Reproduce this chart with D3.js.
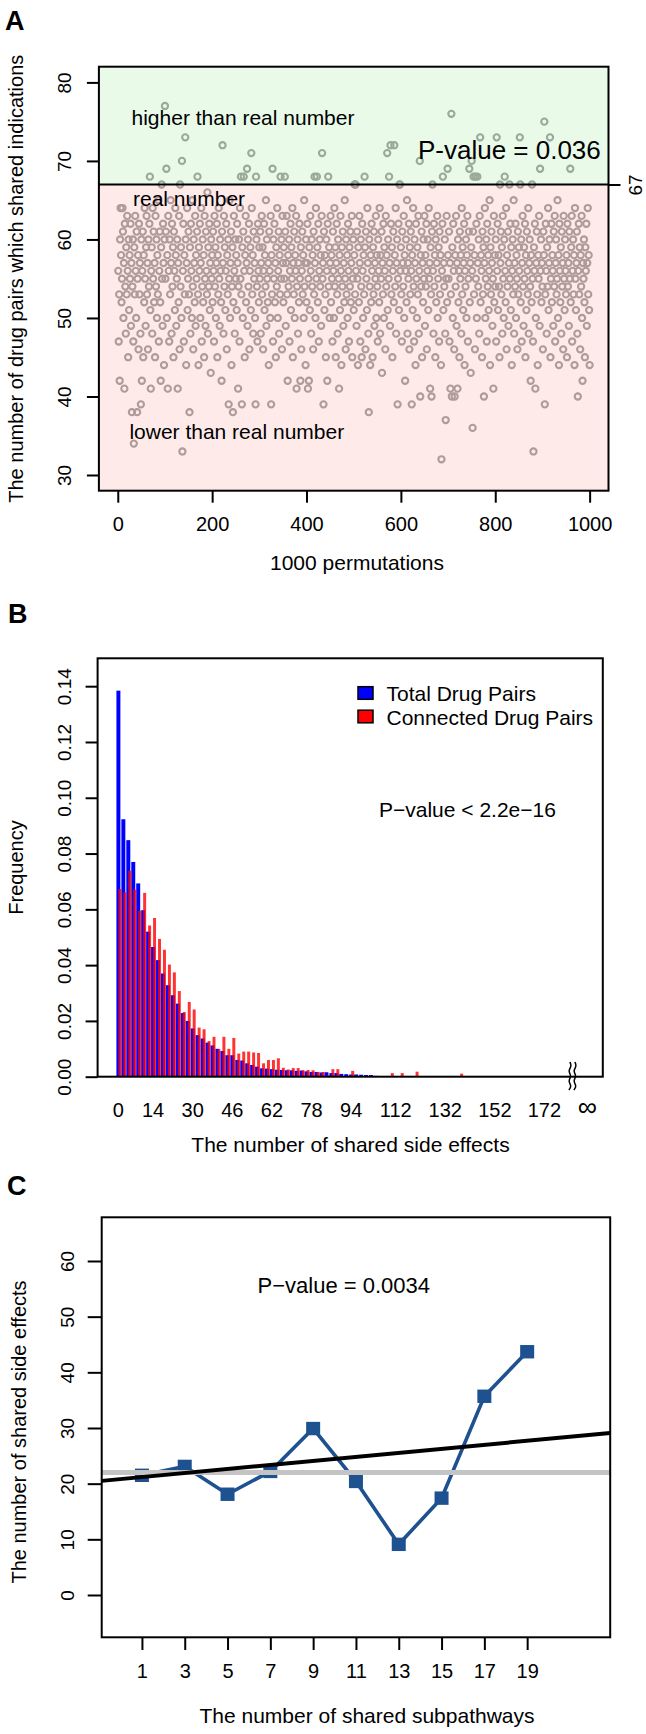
<!DOCTYPE html>
<html><head><meta charset="utf-8">
<script src="https://cdn.jsdelivr.net/npm/d3@7"></script>
<style>body{margin:0;background:#fff} svg{display:block}</style>
</head><body><script>
// ---------------- Panel A data ----------------
const permValues = [
56,47,53,42,60,64,58,52,55,64,61,50,57,41,62,54,48,59,53,63,56,45,60,51,58,55,62,49,57,38,54,60,47,34,59,53,63,56,50,61,38,55,58,46,62,53,57,48,39,60,
42,56,61,45,58,52,64,55,49,59,63,53,57,46,60,54,62,68,51,41,56,59,48,64,55,61,52,57,45,63,54,60,50,58,53,65,47,56,61,52,42,59,67,55,49,62,57,44,60,77,
55,61,69,50,58,41,63,56,47,60,53,65,57,48,62,54,59,45,61,56,51,64,58,49,55,60,41,57,52,63,46,67,54,59,50,70,33,56,62,47,58,53,73,60,44,57,64,51,55,61,
53,38,59,48,62,56,50,65,54,46,60,57,52,63,49,58,55,61,68,53,44,59,56,62,50,57,64,47,54,60,52,58,45,63,55,49,61,56,53,66,48,59,54,62,51,57,43,60,55,58,
52,61,56,47,63,54,59,50,57,62,45,58,53,64,55,49,60,56,52,42,61,72,57,48,63,54,59,51,56,62,46,58,53,60,39,55,65,50,57,61,44,54,59,38,52,63,56,48,60,55,
58,51,62,57,41,54,60,47,64,55,68,53,39,59,50,61,68,56,45,58,63,52,57,69,49,60,54,62,46,56,59,51,71,64,53,58,48,61,55,57,50,39,68,60,54,47,62,56,52,59,
55,61,48,57,63,53,59,46,56,62,51,58,54,65,49,60,55,52,57,44,61,56,50,63,39,58,53,69,47,60,55,62,52,57,45,59,54,64,50,56,61,48,58,53,68,55,60,46,63,57,
52,59,55,68,61,49,57,63,53,42,58,54,60,47,56,62,51,59,55,64,45,57,53,61,50,58,56,63,41,54,60,48,57,52,62,55,42,59,46,56,61,53,58,50,65,54,57,44,60,52,
57,62,41,55,42,59,51,63,56,48,60,54,58,46,61,53,68,57,50,64,55,68,59,52,62,47,56,60,54,58,49,63,71,55,57,39,61,51,58,53,45,60,56,42,62,68,54,59,50,57,
63,52,58,55,47,61,56,50,64,54,59,45,57,62,53,48,60,55,41,58,51,63,56,44,59,54,61,49,57,52,65,55,46,60,53,58,50,62,56,47,59,54,61,52,57,63,45,55,60,51,
58,67,53,67,56,49,61,55,44,59,52,63,57,47,60,54,45,62,56,50,58,53,68,59,46,61,55,51,64,57,48,38,60,54,44,58,52,62,56,45,59,53,61,49,57,55,63,50,58,54,
47,60,56,52,64,48,58,55,61,43,57,53,62,50,59,56,46,63,54,58,71,51,60,55,68,57,49,72,62,53,59,45,56,61,52,72,58,54,64,48,57,60,39,55,62,51,67,67,56,59,
53,47,61,57,54,63,50,58,42,56,60,52,65,48,57,55,62,46,59,53,61,56,39,58,51,64,54,47,60,57,44,62,55,50,59,53,63,48,56,70,40,58,54,61,45,57,52,60,55,63,
49,58,54,62,46,56,60,51,64,55,57,41,59,53,40,61,67,56,48,62,54,58,45,60,52,57,63,50,55,59,47,61,53,58,44,32,56,62,68,51,57,54,60,48,37,55,63,52,69,58,
55,61,47,57,41,53,76,40,59,50,62,56,46,40,58,54,63,49,57,41,60,52,56,45,61,55,58,48,64,53,59,51,57,62,44,56,54,60,50,58,63,47,55,61,69,52,57,43,59,70,
56,36,61,68,53,58,46,68,55,62,50,68,57,54,60,48,63,73,52,58,56,45,61,53,59,40,57,64,50,55,60,47,62,54,58,51,56,65,44,59,53,61,57,49,55,41,63,52,58,54,
60,47,73,56,62,51,58,54,45,67,57,61,53,59,48,63,55,50,60,68,56,52,64,46,58,54,61,49,57,67,55,62,51,59,44,56,60,53,65,48,57,54,62,50,58,55,46,61,53,59,
56,73,67,52,60,47,57,63,54,49,59,55,62,45,58,51,61,56,53,64,48,57,60,54,42,58,52,67,55,47,33,59,56,62,41,50,57,61,53,44,58,55,63,49,69,56,60,52,57,54,
46,61,58,75,39,53,62,56,48,59,54,64,51,57,60,73,45,55,62,52,58,56,49,61,54,63,47,57,60,53,55,65,50,58,44,62,56,52,59,48,61,54,57,46,63,55,51,60,56,53,
58,45,62,54,57,49,61,55,69,52,59,63,47,56,60,53,58,44,64,55,51,57,61,48,40,56,62,53,59,46,58,54,63,50,42,57,55,60,52,45,59,56,62,49,57,64,53,58,51,44
];
const permRealNumber = 67;
const permXTicks = [0, 200, 400, 600, 800, 1000];
const permYTicks = [30, 40, 50, 60, 70, 80];

// ---------------- Panel B data ----------------
const seBinStarts = d3.range(0, 140, 2);
const seTotal = [
0.1384,0.0923,0.0848,0.0770,0.0693,0.0597,0.0520,0.0465,0.0418,0.0370,
0.0328,0.0292,0.0262,0.0228,0.0200,0.0173,0.0149,0.0137,0.0122,0.0112,
0.0100,0.0092,0.0077,0.0077,0.0060,0.0058,0.0048,0.0042,0.0036,0.0030,
0.0029,0.0027,0.0025,0.0024,0.0023,0.0023,0.0021,0.0022,0.0019,0.0017,
0.0017,0.0015,0.0016,0.0013,0.0013,0.0010,0.0009,0.0008,0.0008,0.0007,
0.0006,0.0006,0.0003,0,0,0,0,0,0,0,
0,0,0,0,0,0,0,0,0,0];
const seConnected = [
0.0673,0.0661,0.0738,0.0671,0.0595,0.0659,0.0542,0.0569,0.0494,0.0455,
0.0402,0.0374,0.0307,0.0232,0.0268,0.0241,0.0176,0.0170,0.0128,0.0143,
0.0098,0.0143,0.0100,0.0139,0.0083,0.0090,0.0090,0.0087,0.0085,0.0048,
0.0060,0.0060,0.0066,0.0032,0.0026,0.0031,0.0031,0.0023,0.0024,0.0023,
0.0017,0.0017,0.0005,0.0027,0.0027,0,0,0.0021,0,0,
0,0,0,0,0,0.0013,0,0.0013,0,0,
0.0018,0,0,0,0,0,0,0,0,0.0011];
const seXTicks = [0, 14, 30, 46, 62, 78, 94, 112, 132, 152, 172];
const seInfinityPos = 189.4;
const seBreakPos = 183.1;
const seYTicks = [0, 0.02, 0.04, 0.06, 0.08, 0.10, 0.12, 0.14];
const seLegend = ["Total Drug Pairs", "Connected Drug Pairs"];

// ---------------- Panel C data ----------------
const subX = [1, 3, 5, 7, 9, 11, 13, 15, 17, 19];
const subY = [21.5, 23.1, 18.1, 22.2, 29.9, 20.4, 9.1, 17.4, 35.7, 43.7];
const subMean = 22.0;
const subFitIntercept = 20.82, subFitSlope = 0.362;
const subYTicks = [0, 10, 20, 30, 40, 50, 60];

// ---------------- drawing ----------------
const FONT = "'Liberation Sans', Arial, Helvetica, sans-serif";
const svg = d3.select('body').append('svg').attr('width', 646).attr('height', 1734)
  .attr('font-family', FONT);
svg.append('rect').attr('width', 646).attr('height', 1734).attr('fill', '#fff');

function styleTicks(g, sw) {
  g.select('.domain').remove();
  g.selectAll('line').attr('stroke', '#000').attr('stroke-width', sw);
  g.selectAll('text').attr('fill', '#000').attr('font-family', FONT);
}
function bottomLabels(g, y, fs) {
  g.selectAll('text').attr('y', y).attr('dy', null).attr('font-size', fs);
}
function leftLabels(g, off, fs) {
  g.selectAll('text').attr('x', null).attr('dy', null).attr('text-anchor', 'middle')
    .attr('font-size', fs).attr('transform', `translate(${off},0) rotate(-90)`);
}
function panelLabel(t, x, y) {
  svg.append('text').attr('x', x).attr('y', y).text(t).attr('font-size', 27)
    .attr('font-weight', 'bold').attr('fill', '#000');
}

// ===== Panel A =====
const xA = d3.scaleLinear().domain([-40, 1040]).range([98.9, 608.5]);
const yA = d3.scaleLinear().domain([28, 82]).range([490.7, 66.7]);
const gA = svg.append('g');
gA.append('g').selectAll('circle').data(permValues).join('circle')
  .attr('cx', (d, i) => xA(i + 1)).attr('cy', d => yA(d)).attr('r', 3.1)
  .attr('fill', 'none').attr('stroke', '#9f9f9f').attr('stroke-width', 2.1);
gA.append('rect').attr('x', xA(-40)).attr('y', yA(82))
  .attr('width', xA(1040) - xA(-40)).attr('height', yA(permRealNumber) - yA(82))
  .attr('fill', '#7ce07c').attr('fill-opacity', 0.17);
gA.append('rect').attr('x', xA(-40)).attr('y', yA(permRealNumber))
  .attr('width', xA(1040) - xA(-40)).attr('height', yA(28) - yA(permRealNumber))
  .attr('fill', '#ff8a8a').attr('fill-opacity', 0.18);
gA.append('line').attr('x1', xA(-40)).attr('x2', xA(1040))
  .attr('y1', yA(permRealNumber)).attr('y2', yA(permRealNumber))
  .attr('stroke', '#000').attr('stroke-width', 2);
gA.append('rect').attr('x', xA(-40)).attr('y', yA(82))
  .attr('width', xA(1040) - xA(-40)).attr('height', yA(28) - yA(82))
  .attr('fill', 'none').attr('stroke', '#000').attr('stroke-width', 2);
gA.append('g').attr('transform', `translate(0,${yA(28)})`)
  .call(d3.axisBottom(xA).tickValues(permXTicks).tickSize(12).tickFormat(d3.format('d')))
  .call(g => styleTicks(g, 2)).call(g => bottomLabels(g, 40, 20));
gA.append('g').attr('transform', `translate(${xA(-40)},0)`)
  .call(d3.axisLeft(yA).tickValues(permYTicks).tickSize(12))
  .call(g => styleTicks(g, 2)).call(g => leftLabels(g, -28, 19));
gA.append('g').attr('transform', `translate(${xA(1040)},0)`)
  .call(d3.axisRight(yA).tickValues([permRealNumber]).tickSize(12))
  .call(g => styleTicks(g, 2))
  .call(g => g.selectAll('text').attr('x', null).attr('dy', null).attr('text-anchor', 'middle')
    .attr('font-size', 19).attr('transform', 'translate(33,0) rotate(-90)'));
gA.append('text').attr('x', 131.5).attr('y', 125.3).attr('font-size', 21).text('higher than real number');
gA.append('text').attr('x', 133).attr('y', 206).attr('font-size', 21).text('real number');
gA.append('text').attr('x', 129.4).attr('y', 439).attr('font-size', 21).text('lower than real number');
gA.append('text').attr('x', 600.8).attr('y', 159).attr('font-size', 26).attr('text-anchor', 'end').text('P-value = 0.036');
gA.append('text').attr('x', 357).attr('y', 570).attr('font-size', 21).attr('text-anchor', 'middle').text('1000 permutations');
gA.append('text').attr('transform', `translate(23,${(yA(28) + yA(82)) / 2}) rotate(-90)`)
  .attr('text-anchor', 'middle').attr('font-size', 20).text('The number of drug pairs which shared indications');
panelLabel('A', 5, 30);

// ===== Panel B =====
const xB = d3.scaleLinear().domain([-8.2, 195.8]).range([97.6, 602.8]);
const yB = d3.scaleLinear().domain([0, 0.15]).range([1076.7, 658.3]);
const gB = svg.append('g');
gB.append('g').selectAll('rect').data(seBinStarts).join('rect')
  .attr('x', b => xB(b - 0.6)).attr('width', b => xB(b + 1.0) - xB(b - 0.6))
  .attr('y', (b, i) => yB(seTotal[i])).attr('height', (b, i) => yB(0) - yB(seTotal[i]))
  .attr('fill', '#0000ff');
gB.append('g').selectAll('rect').data(seBinStarts).join('rect')
  .attr('x', b => xB(b + 0.2)).attr('width', b => xB(b + 1.4) - xB(b + 0.2))
  .attr('y', (b, i) => yB(seConnected[i])).attr('height', (b, i) => yB(0) - yB(seConnected[i]))
  .attr('fill', '#ff0000').attr('fill-opacity', 0.8);
gB.append('rect').attr('x', xB(-8.2)).attr('y', yB(0.15))
  .attr('width', xB(195.8) - xB(-8.2)).attr('height', yB(0) - yB(0.15))
  .attr('fill', 'none').attr('stroke', '#000').attr('stroke-width', 2);
gB.append('g').attr('transform', `translate(0,${yB(0)})`)
  .call(d3.axisBottom(xB).tickValues(seXTicks.concat([seInfinityPos])).tickSize(0)
    .tickFormat(d => d === seInfinityPos ? '\u221E' : String(d)))
  .call(g => styleTicks(g, 0)).call(g => bottomLabels(g, 40.3, 20))
  .call(g => g.selectAll('text').filter(d => d === seInfinityPos).attr('font-size', 27).attr('y', 39));
gB.append('g').attr('transform', `translate(${xB(-8.2)},0)`)
  .call(d3.axisLeft(yB).tickValues(seYTicks).tickSize(12).tickFormat(d3.format('.2f')))
  .call(g => styleTicks(g, 2)).call(g => leftLabels(g, -26.6, 19));
// axis break mark
const brk = d3.line().curve(d3.curveBasis);
[-2.5, 2.5].forEach(dx => {
  const x0 = xB(seBreakPos) + dx;
  gB.append('path').attr('d', brk([[x0 + 1, 1062], [x0 + 3, 1066], [x0 - 1, 1071], [x0 + 3, 1076], [x0 - 1, 1081], [x0 + 3, 1086], [x0, 1090]]))
    .attr('fill', 'none').attr('stroke', '#000').attr('stroke-width', 1.5);
});
// legend
const legColors = ['#0000ff', '#ff0000'];
seLegend.forEach((t, i) => {
  const cy = 693 + i * 23.5;
  gB.append('rect').attr('x', 358).attr('y', cy - 6.3).attr('width', 15).attr('height', 12.6)
    .attr('fill', legColors[i]).attr('stroke', '#000').attr('stroke-width', 1.5);
  gB.append('text').attr('x', 386.5).attr('y', cy + 8).attr('font-size', 21).text(t);
});
gB.append('text').attr('x', 379).attr('y', 817).attr('font-size', 21).text('P\u2212value < 2.2e\u221216');
gB.append('text').attr('x', 350.5).attr('y', 1151.5).attr('font-size', 21).attr('text-anchor', 'middle').text('The number of shared side effects');
gB.append('text').attr('transform', `translate(23,${(yB(0) + yB(0.15)) / 2}) rotate(-90)`)
  .attr('text-anchor', 'middle').attr('font-size', 20).text('Frequency');
panelLabel('B', 8, 623);

// ===== Panel C =====
const xC = d3.scaleLinear().domain([-0.88, 22.88]).range([101.7, 610.2]);
const yC = d3.scaleLinear().domain([-7.6, 67.85]).range([1637.3, 1217.3]);
const gC = svg.append('g');
const blue = '#1d5190';
gC.append('path').datum(subX.map((x, i) => [x, subY[i]]))
  .attr('d', d3.line().x(d => xC(d[0])).y(d => yC(d[1])))
  .attr('fill', 'none').attr('stroke', blue).attr('stroke-width', 3.6);
gC.append('g').selectAll('rect').data(subX).join('rect')
  .attr('x', d => xC(d) - 7).attr('y', (d, i) => yC(subY[i]) - 6.7)
  .attr('width', 14).attr('height', 13.4).attr('fill', blue);
gC.append('line').attr('x1', xC(-0.88)).attr('x2', xC(22.88))
  .attr('y1', yC(subMean)).attr('y2', yC(subMean))
  .attr('stroke', '#c4c4c4').attr('stroke-width', 5);
gC.append('line').attr('x1', xC(-0.88)).attr('x2', xC(22.88))
  .attr('y1', yC(subFitIntercept + subFitSlope * -0.88))
  .attr('y2', yC(subFitIntercept + subFitSlope * 22.88))
  .attr('stroke', '#000').attr('stroke-width', 4);
gC.append('rect').attr('x', xC(-0.88)).attr('y', yC(67.85))
  .attr('width', xC(22.88) - xC(-0.88)).attr('height', yC(-7.6) - yC(67.85))
  .attr('fill', 'none').attr('stroke', '#000').attr('stroke-width', 2);
gC.append('g').attr('transform', `translate(0,${yC(-7.6)})`)
  .call(d3.axisBottom(xC).tickValues(subX).tickSize(12.7))
  .call(g => styleTicks(g, 2)).call(g => bottomLabels(g, 40.4, 20));
gC.append('g').attr('transform', `translate(${xC(-0.88)},0)`)
  .call(d3.axisLeft(yC).tickValues(subYTicks).tickSize(14))
  .call(g => styleTicks(g, 2)).call(g => leftLabels(g, -27.7, 19));
gC.append('text').attr('x', 343.8).attr('y', 1292.7).attr('font-size', 22).attr('text-anchor', 'middle').text('P\u2212value = 0.0034');
gC.append('text').attr('x', 367).attr('y', 1723).attr('font-size', 21).attr('text-anchor', 'middle').text('The number of shared subpathways');
gC.append('text').attr('transform', `translate(26,1432) rotate(-90)`)
  .attr('text-anchor', 'middle').attr('font-size', 20).text('The number of shared side effects');
panelLabel('C', 7, 1195);
</script></body></html>
